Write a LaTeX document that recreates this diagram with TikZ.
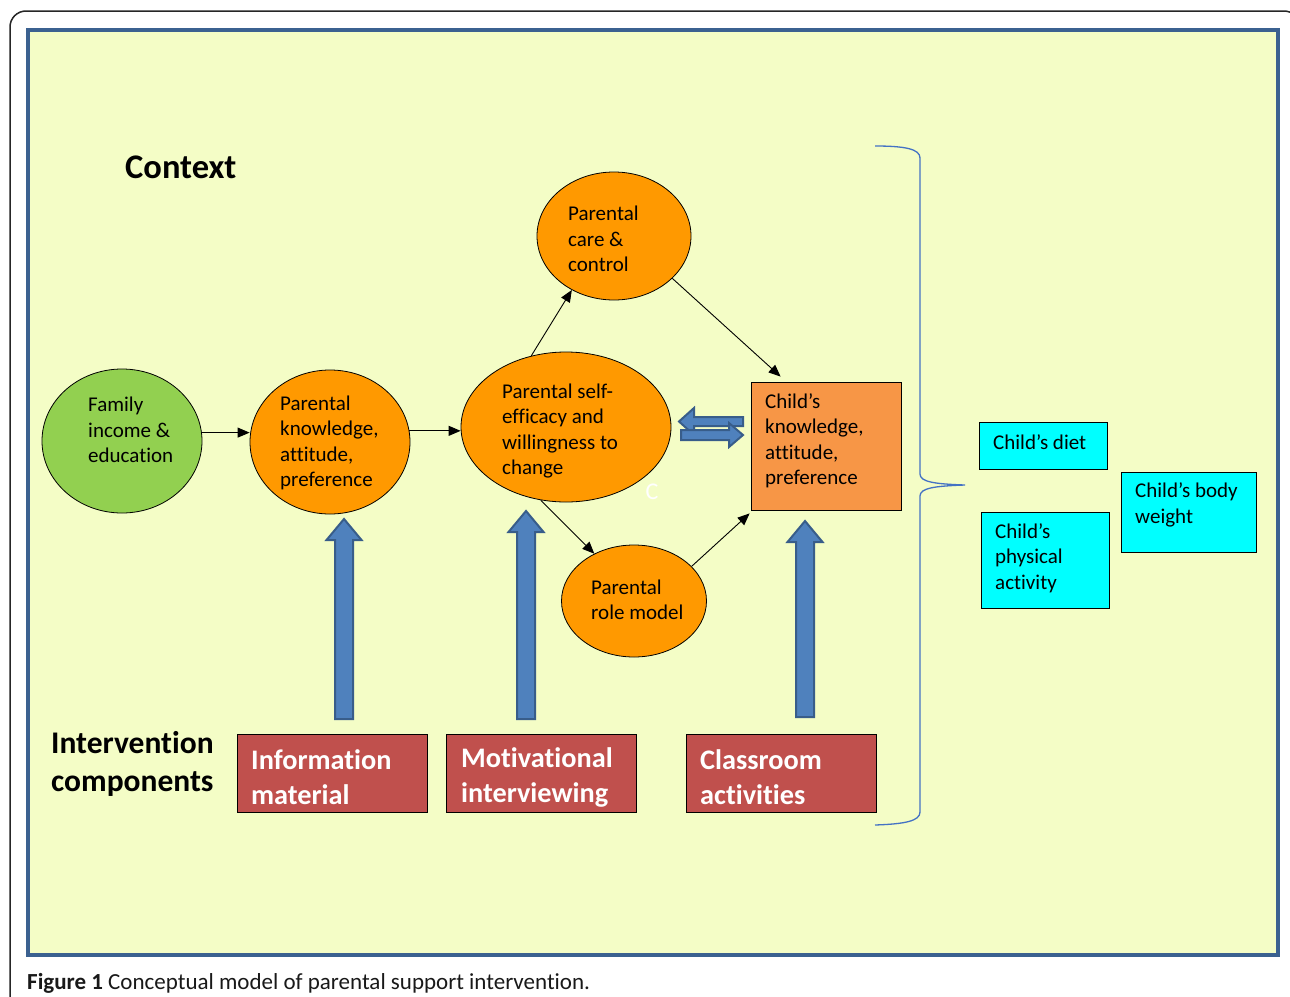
\documentclass[tikz,border=0pt]{standalone}
\usepackage{fontspec}
\setmainfont{Carlito}[Ligatures=NoCommon]
\usetikzlibrary{shapes.geometric,arrows.meta}
\definecolor{bgyellow}{HTML}{F4FDC6}
\definecolor{frameblue}{HTML}{3B6190}
\definecolor{orangeell}{HTML}{FF9900}
\definecolor{childorange}{HTML}{F79646}
\definecolor{greenell}{HTML}{92D050}
\definecolor{redbox}{HTML}{C0504D}
\definecolor{cyanbox}{HTML}{00FFFF}
\definecolor{arrowfill}{HTML}{4F81BD}
\definecolor{arrowedge}{HTML}{385D8A}
\definecolor{bracketblue}{HTML}{4472C4}
\newcommand\upblockarrow[3]{%
  \filldraw[blockarrow] (#1-9,#3) -- (#1-9,#2+21) -- (#1-17.5,#2+21) -- (#1,#2)
    -- (#1+17.5,#2+21) -- (#1+9,#2+21) -- (#1+9,#3) -- cycle;}
\begin{document}
\begin{tikzpicture}[x=1pt,y=-1pt,
  ell/.style={ellipse, draw=black, line width=0.8pt, inner sep=0pt},
  orell/.style={ell, fill=orangeell},
  boxs/.style={rectangle, draw=black, line width=0.8pt, inner sep=0pt},
  redb/.style={boxs, fill=redbox, minimum width=190pt, minimum height=78pt},
  cyanb/.style={boxs, fill=cyanbox},
  txt/.style={anchor=west, align=left, inner sep=0pt, font=\fontsize{21}{25.5}\selectfont},
  redtxt/.style={anchor=west, align=left, inner sep=0pt, text=white, font=\fontsize{28.3}{35}\selectfont\bfseries},
  arr/.style={-{Triangle[length=12pt,width=10pt]}, line width=0.9pt, black},
  blockarrow/.style={fill=arrowfill, draw=arrowedge, line width=2pt, line join=miter},
  bracketline/.style={draw=bracketblue, line width=1.3pt}
]
\clip (0,0) rectangle (1290,996);
\fill[white] (0,0) rectangle (1290,996);
\draw[line width=1.5pt, black!85, rounded corners=16pt] (10,1010) -- (10,11) -- (1300,11) -- (1300,1010);
\draw[line width=3.5pt, frameblue, fill=bgyellow] (28,30) rectangle (1278,955);

% shapes
\node[ell, fill=greenell, minimum width=160pt, minimum height=144pt] (fam) at (122,441) {};
\node[orell, minimum width=160pt, minimum height=144pt] (know) at (330,442) {};
\node[orell, minimum width=210pt, minimum height=150pt] (eff) at (566,427) {};
\node[orell, minimum width=154pt, minimum height=128pt] (care) at (614,236) {};
\node[orell, minimum width=145pt, minimum height=112pt] (role) at (634,601) {};
\node[boxs, fill=childorange, minimum width=150pt, minimum height=128pt] (child) at (826,446) {};
\node[cyanb, minimum width=128pt, minimum height=47pt] (diet) at (1043,445.5) {};
\node[cyanb, minimum width=128pt, minimum height=96pt] (phys) at (1045,560) {};
\node[cyanb, minimum width=135pt, minimum height=80pt] (weight) at (1188.5,512) {};
\node[redb] (info) at (332,773) {};
\node[redb] (motiv) at (541.5,773) {};
\node[redb] (class) at (781,773) {};

% texts
\node[anchor=west, inner sep=0pt, font=\fontsize{34.5}{40}\selectfont\bfseries] (ctx) at (125,167) {Context};
\node[txt] (famtxt) at (88,430) {Family\\income \&\\education};
\node[txt] (knowtxt) at (280,443) {Parental\\knowledge,\\attitude,\\preference};
\node[txt] (efftxt) at (502,431) {Parental self-\\efficacy and\\willingness to\\change};
\node[txt] (caretxt) at (568,239) {Parental\\care \&\\control};
\node[txt] (roletxt) at (591,600) {Parental\\role model};
\node[txt] (childtxt) at (765,441) {Child’s\\knowledge,\\attitude,\\preference};
\node[txt] (diettxt) at (993,442) {Child’s diet};
\node[txt] (physicaltxt) at (995,558) {Child’s\\physical\\activity};
\node[txt] (weighttxt) at (1135,505) {Child’s body\\weight};
\node[anchor=west, align=left, inner sep=0pt, font=\fontsize{31.5}{38}\selectfont\bfseries] (inttxt) at (51,764) {Intervention\\components};
\node[redtxt] (infotxt) at (251,777) {Information\\material};
\node[redtxt] (motivtxt) at (461,777) {Motivational\\interviewing};
\node[redtxt] (classtxt) at (700,777) {Classroom\\activities};
\node[inner sep=0pt, text=white, font=\fontsize{24}{28}\selectfont] (ctxt) at (652,492) {C};
\node[anchor=west, inner sep=0pt, text=black!90, font=\fontsize{23}{26}\selectfont] (caption) at (27,983) {\textbf{Figure 1} Conceptual model of parental support intervention.};

% connectors
\draw[arr] (fam.6) -- (know.west |- fam.6);
\draw[arr] (know.8) -- (eff.west |- know.8);
\draw[arr] (eff.116) -- (care.232);
\draw[arr] (care.-36) -- ([xshift=30pt,yshift=5pt]child.north west);
\draw[arr] (eff.251) -- (role.130);
\draw[arr] (role.31) -- ([xshift=-1pt,yshift=-3pt]child.south west);

% double block arrows
\filldraw[blockarrow] (743,417) -- (694,417) -- (694,408) -- (679,421.5) -- (694,435) -- (694,426) -- (743,426) -- cycle;
\filldraw[blockarrow] (681,430) -- (729,430) -- (729,423) -- (743,435) -- (729,447) -- (729,440) -- (681,440) -- cycle;

% up block arrows
\upblockarrow{344}{519}{719}
\upblockarrow{526}{511}{719}
\upblockarrow{805}{521}{717}

% bracket
\draw[bracketline] (875,146) .. controls (905,146) and (920,149) .. (920,158) -- (920,474)
  .. controls (920,482) and (935,484) .. (965,485)
  .. controls (935,486) and (920,488) .. (920,496) -- (920,812)
  .. controls (920,821) and (905,824) .. (875,825);
\end{tikzpicture}
\end{document}
